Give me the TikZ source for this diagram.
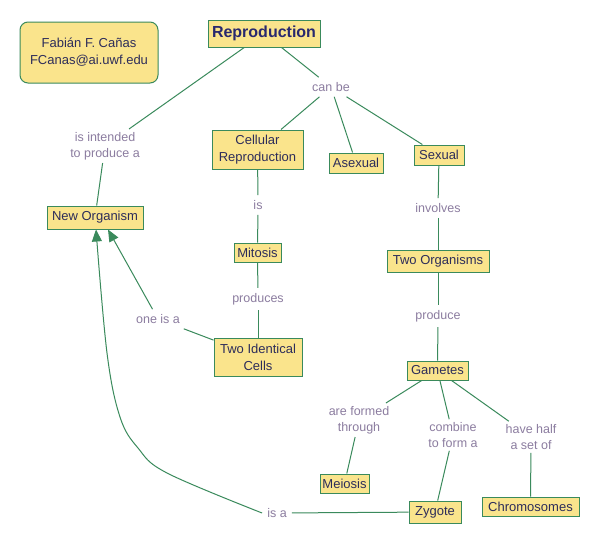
\documentclass[tikz,border=0pt]{standalone}
\usepackage{fontspec}
\setmainfont{Liberation Sans}
\usetikzlibrary{arrows.meta}
\definecolor{boxfill}{RGB}{250,228,140}
\definecolor{boxline}{RGB}{58,138,92}
\definecolor{boxtext}{RGB}{45,45,90}
\definecolor{labtext}{RGB}{140,125,160}
\definecolor{titletext}{RGB}{40,40,110}
\tikzset{
  cbox/.style={draw=boxline, fill=boxfill, line width=1pt, text=boxtext,
    font=\fontsize{13}{15}\selectfont, inner sep=1pt, align=center},
  lab/.style={text=labtext, font=\fontsize{12.5}{16}\selectfont, inner sep=5pt, align=center},
  conn/.style={draw=boxline, line width=1pt},
  arr/.style={conn, -{Triangle[length=12pt,width=10pt]}},
}
\begin{document}
\begin{tikzpicture}[x=1pt,y=-1pt]
\useasboundingbox (0,0) rectangle (599,544);
\fill[white] (0,0) rectangle (599,544);
% author
\node[cbox, rounded corners=8pt, minimum width=138, minimum height=61, font=\fontsize{13}{17}\selectfont] (author) at (89,52.5) {Fabián F. Cañas\\FCanas@ai.uwf.edu};
% concepts
\node[cbox, minimum width=112, minimum height=27, text=titletext, font=\fontsize{16}{18}\selectfont\bfseries] (repro) at (264,33.5) {Reproduction};
\node[cbox, minimum width=91, minimum height=39, font=\fontsize{13}{17}\selectfont] (cell) at (257.5,149.5) {Cellular\\Reproduction};
\node[cbox, minimum width=54, minimum height=20] (asex) at (356,163) {Asexual};
\node[cbox, minimum width=50, minimum height=20] (sex) at (439,155) {Sexual};
\node[cbox, minimum width=96, minimum height=23] (neworg) at (95,217.5) {New Organism};
\node[cbox, minimum width=47, minimum height=19] (mitosis) at (257.5,252.5) {Mitosis};
\node[cbox, minimum width=102, minimum height=22] (twoorg) at (438,261) {Two Organisms};
\node[cbox, minimum width=88, minimum height=38, font=\fontsize{13}{17}\selectfont] (twoid) at (258,357) {Two Identical\\Cells};
\node[cbox, minimum width=61, minimum height=19] (gametes) at (437.5,370.5) {Gametes};
\node[cbox, minimum width=49, minimum height=19] (meiosis) at (344.5,483.5) {Meiosis};
\node[cbox, minimum width=52, minimum height=22] (zygote) at (435,512) {Zygote};
\node[cbox, minimum width=97, minimum height=19] (chromo) at (530.5,506.5) {Chromosomes};
% linking phrases
\node[lab] (canbe) at (331,87) {can be};
\node[lab, inner sep=3pt] (intended) at (105,146) {is intended\\to produce a};
\node[lab] (is) at (258,205) {is};
\node[lab] (involves) at (438,208) {involves};
\node[lab] (produces) at (258,299) {produces};
\node[lab] (oneisa) at (158,319) {one is a};
\node[lab] (produce) at (438,316) {produce};
\node[lab, inner sep=3pt] (formed) at (359,420) {are formed\\through};
\node[lab, inner sep=3pt] (combine) at (453,435) {combine\\to form a};
\node[lab, inner sep=3pt] (half) at (531,437) {have half\\a set of};
\node[lab] (isa) at (277,513) {is a};
% connectors
\draw[conn] (repro) -- (canbe);
\draw[conn] (canbe) -- (cell);
\draw[conn] (canbe) -- (asex);
\draw[conn] (canbe) -- (sex);
\draw[conn] (repro) -- (intended);
\draw[conn] (intended) -- (neworg);
\draw[conn] (cell) -- (is);
\draw[conn] (is) -- (mitosis);
\draw[conn] (mitosis) -- (produces);
\draw[conn] (produces) -- (twoid);
\draw[conn] (twoid) -- (oneisa);
\draw[arr] (oneisa) -- ([xshift=13pt]neworg.south);
\draw[conn] (sex) -- (involves);
\draw[conn] (involves) -- (twoorg);
\draw[conn] (twoorg) -- (produce);
\draw[conn] (produce) -- (gametes);
\draw[conn] (gametes) -- (formed);
\draw[conn] (formed) -- (meiosis);
\draw[conn] (gametes) -- (combine);
\draw[conn] (combine) -- (zygote);
\draw[conn] (gametes) -- (half);
\draw[conn] (half) -- (chromo);
\draw[conn] (zygote) -- (isa);
\draw[arr] plot[smooth, tension=0.6] coordinates {(isa.west) (167,473) (138,448) (120,417) (107,353) ([xshift=1pt]neworg.south)};
\end{tikzpicture}
\end{document}
